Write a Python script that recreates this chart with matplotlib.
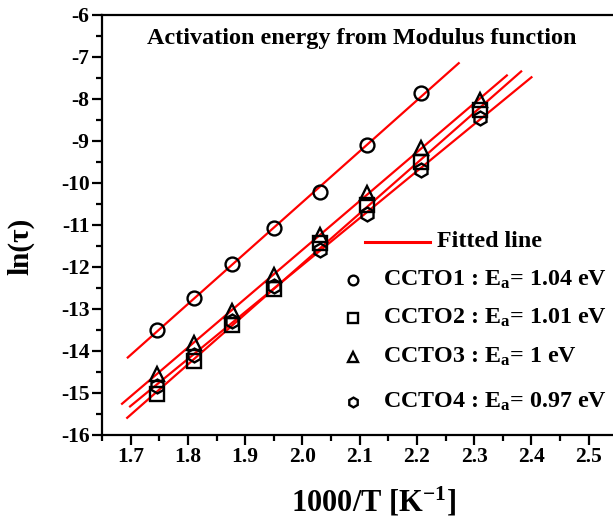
import numpy as np
import matplotlib.pyplot as plt

plt.rcParams['font.family'] = ['Liberation Serif', 'DejaVu Serif']
plt.rcParams['font.weight'] = 'bold'
plt.rcParams['mathtext.fontset'] = 'custom'
plt.rcParams['mathtext.rm'] = 'Liberation Serif:bold'
plt.rcParams['mathtext.it'] = 'Liberation Serif:italic:bold'
plt.rcParams['mathtext.bf'] = 'Liberation Serif:bold'

# inverse temperature 1000/T (K^-1)
inv_T = [1.746, 1.810, 1.877, 1.950, 2.030, 2.113, 2.207, 2.310]

# ln(tau) for each sample
ccto1 = [-13.50, -12.75, -11.93, -11.08, -10.22, -9.10, -7.86]
ccto2 = [-15.02, -14.23, -13.38, -12.53, -11.44, -10.52, -9.49, -8.26]
ccto3 = [-14.54, -13.80, -13.05, -12.19, -11.24, -10.23, -9.17, -8.02]
ccto4 = [-14.84, -14.10, -13.28, -12.45, -11.60, -10.74, -9.69, -8.46]

markers = ['o', 's', '^', 'h']
names = ['CCTO1', 'CCTO2', 'CCTO3', 'CCTO4']
energies = ['1.04', '1.01', '1', '0.97']
# x span of each fitted line
fit_ranges = [(1.695, 2.273), (1.694, 2.382), (1.685, 2.357), (1.699, 2.400)]

series = [ccto1, ccto2, ccto3, ccto4]

fig = plt.figure(figsize=(6.13, 5.2), dpi=100)
ax = fig.add_axes([0.1664, 0.1635, 0.8874, 0.8077])

for ys, m, (x0, x1) in zip(series, markers, fit_ranges):
    xs = np.array(inv_T[:len(ys)])
    k, b = np.polyfit(xs, ys, 1)
    xf = np.array([x0, x1])
    ax.plot(xf, k * xf + b, color='#ff0000', lw=1.6, zorder=2)
    ax.plot(xs, ys, linestyle='none', marker=m, ms=10, mfc='none',
            mec='black', mew=1.7, zorder=3)

ax.set_xlim(1.65, 2.6)
ax.set_ylim(-16, -6)
ax.set_xticks(np.arange(1.7, 2.51, 0.1))
ax.set_xticks(np.arange(1.65, 2.56, 0.05), minor=True)
ax.set_yticks(np.arange(-16, -5.9, 1))
ax.set_yticks(np.arange(-16, -5.9, 0.5), minor=True)
ax.xaxis.set_major_formatter(plt.FormatStrFormatter('%.1f'))
ax.yaxis.set_major_formatter(plt.FormatStrFormatter('%d'))

for s in ax.spines.values():
    s.set_linewidth(1.6)
ax.tick_params(which='major', direction='out', length=7, width=1.6,
               labelsize=15.5, pad=2)
ax.tick_params(which='minor', direction='out', length=4, width=1.6)
for lbl in ax.get_xticklabels() + ax.get_yticklabels():
    lbl.set_fontweight('bold')

ax.set_xlabel('1000/T [K$^{\\mathrm{-1}}$]', fontsize=22, fontweight='bold')
ax.set_ylabel('ln(\u03c4)', fontsize=21, fontweight='bold')
ax.xaxis.set_label_coords(0.5, -0.12)
ax.yaxis.set_label_coords(-0.125, 0.45)

ax.text(0.477, 0.943, 'Activation energy from Modulus function',
        transform=ax.transAxes, ha='center', va='center',
        fontsize=17.4, fontweight='bold')

# key
ax.plot([0.4835, 0.603], [0.4595, 0.4595], transform=ax.transAxes,
        color='#ff0000', lw=2.2, clip_on=False)
ax.text(0.6158, 0.4595, 'Fitted line', transform=ax.transAxes,
        ha='left', va='center', fontsize=17.3, fontweight='bold')
rows = [0.369, 0.278, 0.186, 0.079]
for fy, m, n, e in zip(rows, markers, names, energies):
    ax.plot([0.462], [fy], transform=ax.transAxes, marker=m, ms=7,
            mfc='none', mec='black', mew=1.7, linestyle='none')
    ax.text(0.5165, fy, n + ' : E$_{\\mathrm{a}}$= ' + e + ' eV',
            transform=ax.transAxes, ha='left', va='center',
            fontsize=17.3, fontweight='bold')

fig.savefig('out.png', dpi=100)
